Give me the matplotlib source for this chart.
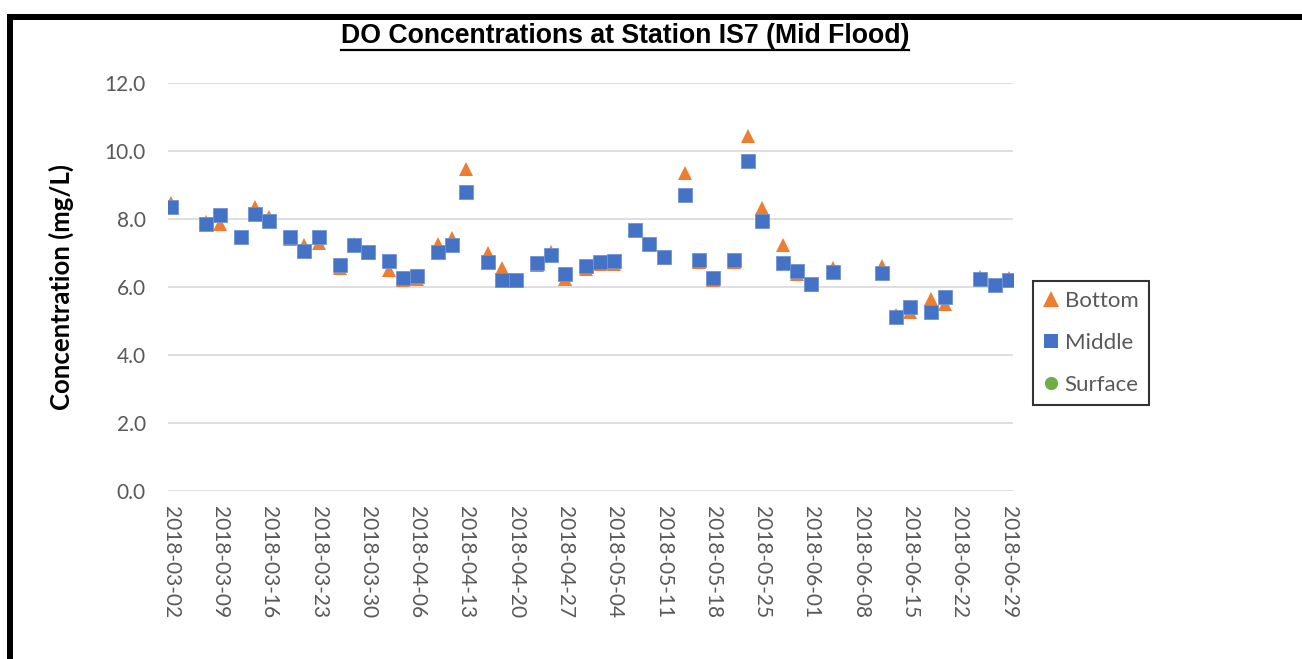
import matplotlib
matplotlib.use('Agg')
import matplotlib.pyplot as plt
import matplotlib.dates as mdates
from matplotlib.patches import Rectangle
from matplotlib.lines import Line2D
import pandas as pd

# sampling dates (mid flood)
dates = ['2018-03-02', '2018-03-07', '2018-03-09', '2018-03-12', '2018-03-14', '2018-03-16',
         '2018-03-19', '2018-03-21', '2018-03-23', '2018-03-26', '2018-03-28', '2018-03-30',
         '2018-04-02', '2018-04-04', '2018-04-06', '2018-04-09', '2018-04-11', '2018-04-13',
         '2018-04-16', '2018-04-18', '2018-04-20', '2018-04-23', '2018-04-25', '2018-04-27',
         '2018-04-30', '2018-05-02', '2018-05-04', '2018-05-07', '2018-05-09', '2018-05-11',
         '2018-05-14', '2018-05-16', '2018-05-18', '2018-05-21', '2018-05-23', '2018-05-25',
         '2018-05-28', '2018-05-30', '2018-06-01', '2018-06-04', '2018-06-11', '2018-06-13',
         '2018-06-15', '2018-06-18', '2018-06-20', '2018-06-25', '2018-06-27', '2018-06-29']

bottom = [8.47, 7.90, 7.85, 7.46, 8.33, 8.05, 7.41, 7.22, 7.29, 6.55, 7.26, 6.99,
          6.50, 6.21, 6.23, 7.25, 7.42, 9.47, 6.98, 6.54, 6.17, 6.65, 7.03, 6.24,
          6.51, 6.68, 6.67, 7.68, 7.25, 6.84, 9.34, 6.74, 6.19, 6.73, 10.43, 8.32,
          7.23, 6.38, 6.04, 6.56, 6.60, 5.17, 5.26, 5.63, 5.49, 6.30, 6.05, 6.27]

middle = [8.35, 7.83, 8.10, 7.46, 8.14, 7.94, 7.45, 7.04, 7.47, 6.65, 7.22, 7.01,
          6.75, 6.27, 6.31, 7.01, 7.24, 8.79, 6.74, 6.20, 6.20, 6.70, 6.94, 6.36,
          6.60, 6.72, 6.77, 7.67, 7.25, 6.86, 8.70, 6.78, 6.27, 6.79, 9.69, 7.92,
          6.69, 6.45, 6.08, 6.43, 6.41, 5.12, 5.39, 5.27, 5.69, 6.23, 6.06, 6.20]

# no surface readings on this chart, legend entry only
surface = []

yticks = [0, 2, 4, 6, 8, 10, 12]

x = pd.to_datetime(dates)
start = pd.Timestamp('2018-03-02')
end = pd.Timestamp('2018-06-29')

W, H = 1302, 659
fig = plt.figure(figsize=(W / 100, H / 100), dpi=100)
ax = fig.add_axes([168 / W, 1 - 490.7 / H, (1013 - 168) / W, (490.7 - 82.7) / H])

label_font = 'Lato'
grey = '#595959'

ax.plot(x, bottom, linestyle='none', marker='^', ms=10.5, color='#ED7D31',
        markeredgewidth=0, zorder=3)
ax.plot(x, middle, linestyle='none', marker='s', ms=10, color='#4472C4',
        markeredgecolor='#6f93d6', markeredgewidth=0.6, zorder=4)
ax.plot(pd.to_datetime(surface), surface, linestyle='none', marker='o', color='#70AD47')

ax.set_ylim(0, 12)
ax.set_yticks(yticks)
ax.set_yticklabels([f'{v:.1f}' for v in yticks])
ax.set_xlim(start - pd.Timedelta(hours=9), end + pd.Timedelta(hours=15))
ax.set_xticks(pd.date_range(start, end, freq='7D'))
ax.xaxis.set_major_formatter(mdates.DateFormatter('%Y-%m-%d'))

ax.grid(axis='y', color='#D9D9D9', linewidth=1.2)
ax.set_axisbelow(True)
for s in ax.spines.values():
    s.set_visible(False)
ax.tick_params(length=0)
ax.tick_params(axis='y', pad=16, labelsize=15, labelcolor=grey)
ax.tick_params(axis='x', pad=11, labelsize=15, labelcolor=grey, labelrotation=-90)
for t in ax.get_xticklabels() + ax.get_yticklabels():
    t.set_fontfamily(label_font)
for t in ax.get_xticklabels():
    t.set_va('top')
    t.set_ha('center')

fig.text(61 / W, 1 - 287 / H, 'Concentration (mg/L)', rotation=90, ha='center', va='center',
         fontsize=18.5, fontweight='bold', family=label_font, color='black')

# title with underline
title = fig.text(625 / W, 1 - 36 / H, 'DO Concentrations at Station IS7 (Mid Flood)',
                 ha='center', va='center', fontsize=19.2, fontweight='bold',
                 family=['Liberation Sans Narrow', 'Liberation Sans', 'DejaVu Sans'])
fig.canvas.draw()
bb = title.get_window_extent()
fig.add_artist(Line2D([bb.x0 / W, bb.x1 / W], [1 - 49.5 / H, 1 - 49.5 / H],
                      transform=fig.transFigure, color='black', linewidth=1.6))

# legend box
handles = [Line2D([], [], linestyle='none', marker='^', ms=11.5, color='#ED7D31', markeredgewidth=0),
           Line2D([], [], linestyle='none', marker='s', ms=10, color='#4472C4', markeredgewidth=0),
           Line2D([], [], linestyle='none', marker='o', ms=9.5, color='#70AD47', markeredgewidth=0)]
leg = fig.legend(handles, ['Bottom', 'Middle', 'Surface'], loc='center',
                 bbox_to_anchor=(1033 / W, 1 - 410 / H, 116 / W, 134 / H),
                 bbox_transform=fig.transFigure, frameon=True, fancybox=False,
                 handlelength=0.7, handletextpad=0.25, labelspacing=1.0, borderpad=0.45,
                 borderaxespad=0, prop={'family': label_font, 'size': 16})
leg.get_frame().set_edgecolor('black')
leg.get_frame().set_linewidth(1.5)
for t in leg.get_texts():
    t.set_color(grey)

# outer black frame (top and left edges only)
fig.add_artist(Rectangle((7 / W, 1 - 20 / H), 1 - 7 / W, 6 / H, transform=fig.transFigure,
                         color='black', linewidth=0))
fig.add_artist(Rectangle((7 / W, 0), 6 / W, 1 - 14 / H, transform=fig.transFigure,
                         color='black', linewidth=0))

fig.savefig('out.png', dpi=100)
